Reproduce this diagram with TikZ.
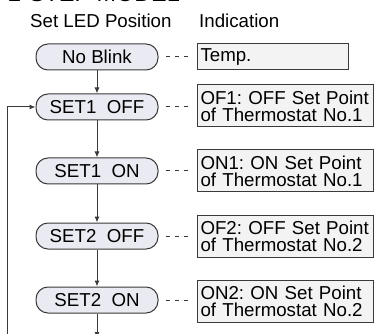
\documentclass[tikz,border=0pt]{standalone}
\usepackage{fontspec}
\setmainfont{Liberation Sans}
\usetikzlibrary{arrows.meta}
\definecolor{ledfill}{HTML}{EAEAF2}
\definecolor{indfill}{HTML}{F3F3F3}
\definecolor{lncol}{HTML}{3A3A3A}
\newcommand{\fsz}{\fontsize{18.7}{17}\selectfont}
\frenchspacing
\begin{document}
\begin{tikzpicture}[x=1pt,y=-1pt,
  ln/.style={draw=lncol, line width=1pt},
  led/.style={ln, fill=ledfill, rounded corners=12pt, minimum width=122pt,
    minimum height=26pt, inner sep=0pt, font=\fsz},
  ind/.style={ln, fill=indfill, anchor=west, inner xsep=3pt, inner ysep=0pt,
    minimum height=42pt, text width=170pt, align=left, font=\fsz},
  hdr/.style={anchor=base west, inner sep=0pt, font=\fsz},
  arr/.style={draw=lncol, line width=1pt, -{Latex[length=6pt,width=5pt]}},
  dsh/.style={draw=lncol, line width=1pt, dash pattern=on 4pt off 5pt}]
\useasboundingbox (0,0) rectangle (375,334);
% title (cut off at the top)
\node[anchor=base west, inner sep=0pt, font=\fontsize{23.4}{24}\selectfont] (ttl) at (8,1.5) {2-STEP MODEL};
\node[hdr] (h1) at (30,28) {Set LED Position};
\node[hdr] (h2) at (199,28) {Indication};
% LED positions
\node[led] (nb)   at (97,57)  {No Blink};
\node[led] (s1f)  at (97,107) {SET1\ \ OFF};
\node[led] (s1n)  at (97,171) {SET1\ \ ON};
\node[led] (s2f)  at (97,236) {SET2\ \ OFF};
\node[led] (s2n)  at (97,300) {SET2\ \ ON};
% indications
\node[ind, minimum height=26pt, text width=145pt] (tmp) at (197,57) {Temp.};
\node[ind] (of1) at (197,106) {\mbox{OF1: OFF Set Point}\\\mbox{of Thermostat No.1}};
\node[ind] (on1) at (197,171) {\mbox{ON1: ON Set Point}\\\mbox{of Thermostat No.1}};
\node[ind] (of2) at (197,236) {\mbox{OF2: OFF Set Point}\\\mbox{of Thermostat No.2}};
\node[ind] (on2) at (197,301) {\mbox{ON2: ON Set Point}\\\mbox{of Thermostat No.2}};
% dashed links
\foreach \a in {nb,s1f,s1n,s2f,s2n}
  \draw[dsh] ([xshift=7pt]\a.east) -- ++(22,0);
% flow arrows
\draw[arr] (nb.south) -- (s1f.north);
\draw[arr] (s1f.south) -- (s1n.north);
\draw[arr] (s1n.south) -- (s2f.north);
\draw[arr] (s2f.south) -- (s2n.north);
\coordinate (bot) at (97,338);
\draw[arr] (s2n.south) -- (bot);
\coordinate (lb) at (7,345);
\draw[arr] (lb) |- (s1f.west);
\end{tikzpicture}
\end{document}
